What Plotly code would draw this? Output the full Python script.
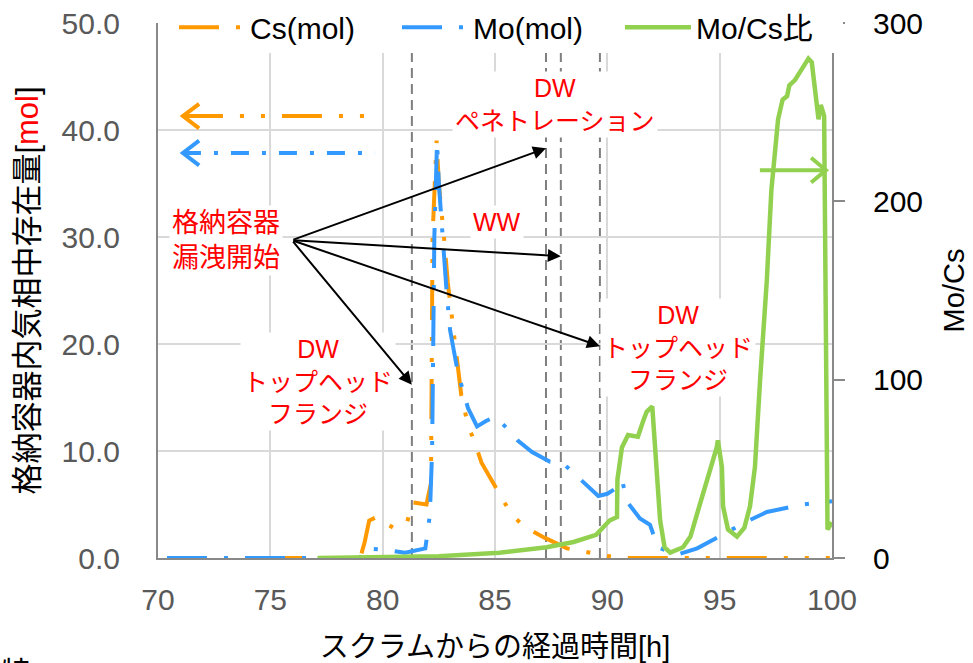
import plotly.graph_objects as go

# ---- data -------------------------------------------------------------
hours_cs = [70.4, 79.0, 79.2, 79.4, 79.7, 80.1, 80.5, 80.9, 81.1, 81.3, 81.6, 81.95,
            82.15, 82.22, 82.3, 82.4, 82.5, 82.6, 82.75, 82.9, 83.1, 83.3, 83.5, 83.8,
            84.1, 84.4, 84.9, 85.3, 85.75, 86.4, 87.2, 88.2, 89.7, 90.5, 99.9]
cs_mol = [0.0, 0.0, 1.5, 3.5, 3.8, 3.3, 2.8, 3.0, 3.4, 5.2, 5.1, 5.0,
          7.0, 30.0, 34.0, 39.0, 35.0, 33.0, 29.5, 25.7, 22.2, 18.5, 15.2, 12.4,
          10.8, 8.9, 7.1, 5.5, 4.0, 2.8, 1.9, 0.9, 0.3, 0.0, 0.0]

hours_mo = [70.4, 79.0, 79.2, 80.0, 81.0, 81.9, 82.1, 82.2, 82.3, 82.42, 82.5, 82.65,
            82.85, 83.0, 83.35, 83.8, 84.2, 84.6, 85.0, 85.5, 86.0, 86.65, 87.45, 88.0,
            88.9, 89.6, 90.0, 90.3, 90.65, 90.9, 91.45, 91.9, 92.25, 93.1, 94.0, 95.2,
            96.2, 97.1, 98.7, 99.6, 100.0]
mo_mol = [0.0, 0.0, 0.9, 0.8, 0.5, 0.9, 4.0, 10.0, 30.0, 38.9, 35.0, 30.0,
          24.8, 21.3, 17.3, 14.0, 12.3, 12.8, 13.2, 12.2, 11.0, 9.9, 9.0, 8.9,
          7.1, 5.8, 6.0, 6.4, 7.3, 5.2, 3.7, 3.1, 1.0, 0.3, 0.9, 2.3,
          3.4, 4.3, 5.0, 5.2, 5.3]

hours_ratio = [77.1, 80.0, 82.5, 85.2, 87.3, 88.5, 89.5, 90.1, 90.43, 90.45, 90.65, 90.92,
               91.36, 91.6, 91.75, 92.0, 92.2, 92.35, 92.55, 92.8, 93.37, 93.7, 94.0, 94.27,
               94.5, 94.7, 94.87, 94.92, 95.1, 95.15, 95.37, 95.77, 96.1, 96.35, 96.57, 96.8,
               97.1, 97.3, 97.6, 97.8, 98.0, 98.1, 98.35, 98.6, 98.85, 98.95, 99.1, 99.25,
               99.4, 99.5, 99.65, 99.8, 100.0]
mo_cs_ratio = [0.0, 0.3, 1.0, 3.0, 6.0, 9.0, 13.0, 21.0, 23.0, 44.0, 62.0, 69.0,
               68.0, 77.0, 82.0, 85.0, 44.0, 21.0, 6.0, 3.0, 6.0, 12.0, 25.0, 36.0,
               45.0, 55.0, 62.0, 66.0, 51.0, 29.0, 16.0, 12.0, 17.0, 29.0, 51.0, 100.0,
               156.0, 206.0, 246.0, 257.0, 259.0, 265.0, 268.0, 273.0, 278.0, 280.0, 278.0, 262.0,
               246.0, 254.0, 248.0, 16.0, 20.0]

# event times (vertical dashed markers)
event_hours = [81.3, 87.27, 87.93, 89.67]

x_ticks = [70, 75, 80, 85, 90, 95, 100]
y_ticks = [0, 10, 20, 30, 40, 50]
y2_ticks = [0, 100, 200, 300]

# ---- styles -----------------------------------------------------------
ORANGE = "#FF9900"
BLUE = "#3399FF"
GREEN = "#92D050"
RED = "#FF0000"
AXIS = "#898989"
GRID = "#D9D9D9"
TICKTXT = "#595959"
FONT = "Liberation Sans, Arial, Noto Sans CJK JP, sans-serif"

fig = go.Figure()
fig.add_trace(go.Scatter(x=hours_cs, y=cs_mol, name="Cs(mol)", mode="lines",
                         line=dict(color=ORANGE, width=4,
                                   dash="40px,17px,4px,17px,4px,17px")))
fig.add_trace(go.Scatter(x=hours_mo, y=mo_mol, name="Mo(mol)", mode="lines",
                         line=dict(color=BLUE, width=4, dash="40px,17px,4px,17px")))
fig.add_trace(go.Scatter(x=hours_ratio, y=mo_cs_ratio, name="Mo/Cs比", mode="lines",
                         yaxis="y2", line=dict(color=GREEN, width=4.5)))

# dashed event markers
shapes = []
for h in event_hours:
    shapes.append(dict(type="line", xref="x", yref="y", x0=h, x1=h, y0=0, y1=50,
                       layer="below", line=dict(color="#7F7F7F", width=2, dash="10px,6px")))


def chevron(x_tip, y_mid, dx, dy, color):
    return dict(type="path", xref="paper", yref="paper",
                path=f"M{x_tip + dx},{y_mid + dy} L{x_tip},{y_mid} L{x_tip + dx},{y_mid - dy}",
                line=dict(color=color, width=4), layer="above")


# series-to-axis arrows
shapes += [
    dict(type="line", xref="paper", yref="paper", x0=0.037, x1=0.322, y0=0.826, y1=0.826,
         line=dict(color=ORANGE, width=4, dash="40px,17px,4px,17px,4px,17px"), layer="above"),
    chevron(0.037, 0.826, 0.024, 0.023, ORANGE),
    dict(type="line", xref="paper", yref="paper", x0=0.037, x1=0.322, y0=0.757, y1=0.757,
         line=dict(color=BLUE, width=4, dash="18px,13px,4px,13px"), layer="above"),
    chevron(0.037, 0.757, 0.024, 0.023, BLUE),
    dict(type="line", xref="paper", yref="paper", x0=0.893, x1=0.990, y0=0.725, y1=0.725,
         line=dict(color=GREEN, width=4), layer="above"),
    chevron(0.991, 0.725, -0.022, 0.023, GREEN),
]


# text labels
def label(text, x, y, size=25):
    return dict(text=text, x=x, y=y, xref="paper", yref="paper", showarrow=False,
                font=dict(family=FONT, size=size, color=RED), bgcolor="white",
                align="center", xanchor="center", yanchor="middle", borderpad=2)


annotations = [
    label("DW<br>ペネトレーション", 0.589, 0.847),
    label("WW", 0.503, 0.628),
    label("格納容器<br>漏洩開始", 0.101, 0.594, size=27),
    label("DW<br>トップヘッド<br>フランジ", 0.237, 0.329),
    label("DW<br>トップヘッド<br>フランジ", 0.772, 0.394),
]

# arrows from the leak-start label to the events
leak_origin = (75.96, 29.7)
arrow_tips = [(event_hours[0], 16.2), (event_hours[1], 38.3),
              (event_hours[2], 28.2), (event_hours[3], 19.8)]
for tx, ty in arrow_tips:
    annotations.append(dict(x=tx, y=ty, xref="x", yref="y", ax=leak_origin[0], ay=leak_origin[1],
                            axref="x", ayref="y", text="", showarrow=True, arrowhead=2,
                            arrowsize=1.3, arrowwidth=2, arrowcolor="black", standoff=0))

# partially visible caption at the bottom-left
annotations.append(dict(text="特", x=-0.236, y=-0.18, xref="paper", yref="paper", xanchor="left",
                        yanchor="top", showarrow=False, font=dict(family=FONT, size=30, color="black")))

fig.update_layout(
    width=973, height=663,
    margin=dict(l=158, r=141, t=23, b=105, autoexpand=False),
    paper_bgcolor="white", plot_bgcolor="white",
    font=dict(family=FONT, size=30, color="black"),
    shapes=shapes, annotations=annotations,
    showlegend=True,
    legend=dict(orientation="h", x=0.52, xanchor="center", y=0.992, yanchor="middle",
                bgcolor="white", font=dict(family=FONT, size=30, color="black"),
                itemwidth=66, entrywidth=142, entrywidthmode="pixels", borderwidth=0),
    xaxis=dict(range=[70, 100], tickvals=x_ticks, showgrid=True, gridcolor=GRID, gridwidth=1.5,
               showline=True, linecolor=AXIS, linewidth=2, zeroline=False, ticks="",
               tickfont=dict(color=TICKTXT, size=30), ticklabelstandoff=14, automargin=False,
               title=dict(text="スクラムからの経過時間[h]", font=dict(size=29, color="black"), standoff=22)),
    yaxis=dict(range=[0, 50], tickvals=y_ticks, tickformat=".1f", showgrid=True, gridcolor=GRID,
               gridwidth=1.5, showline=True, linecolor=AXIS, linewidth=2, zeroline=False, ticks="",
               tickfont=dict(color=TICKTXT, size=30), ticklabelstandoff=30, automargin=False,
               title=dict(text="格納容器内気相中存在量[<span style='color:#FF0000'>mol</span>]",
                          font=dict(size=31, color="black"), standoff=14)),
    yaxis2=dict(range=[0, 300], tickvals=y2_ticks, overlaying="y", side="right", showgrid=False,
                showline=True, linecolor=AXIS, linewidth=2, zeroline=False, ticks="outside",
                ticklen=11, tickwidth=2, tickcolor=AXIS, ticklabelstandoff=22, automargin=False,
                tickfont=dict(color="black", size=30),
                title=dict(text="Mo/Cs", font=dict(size=29, color="black"), standoff=22)),
)

fig.write_html("out.html")
